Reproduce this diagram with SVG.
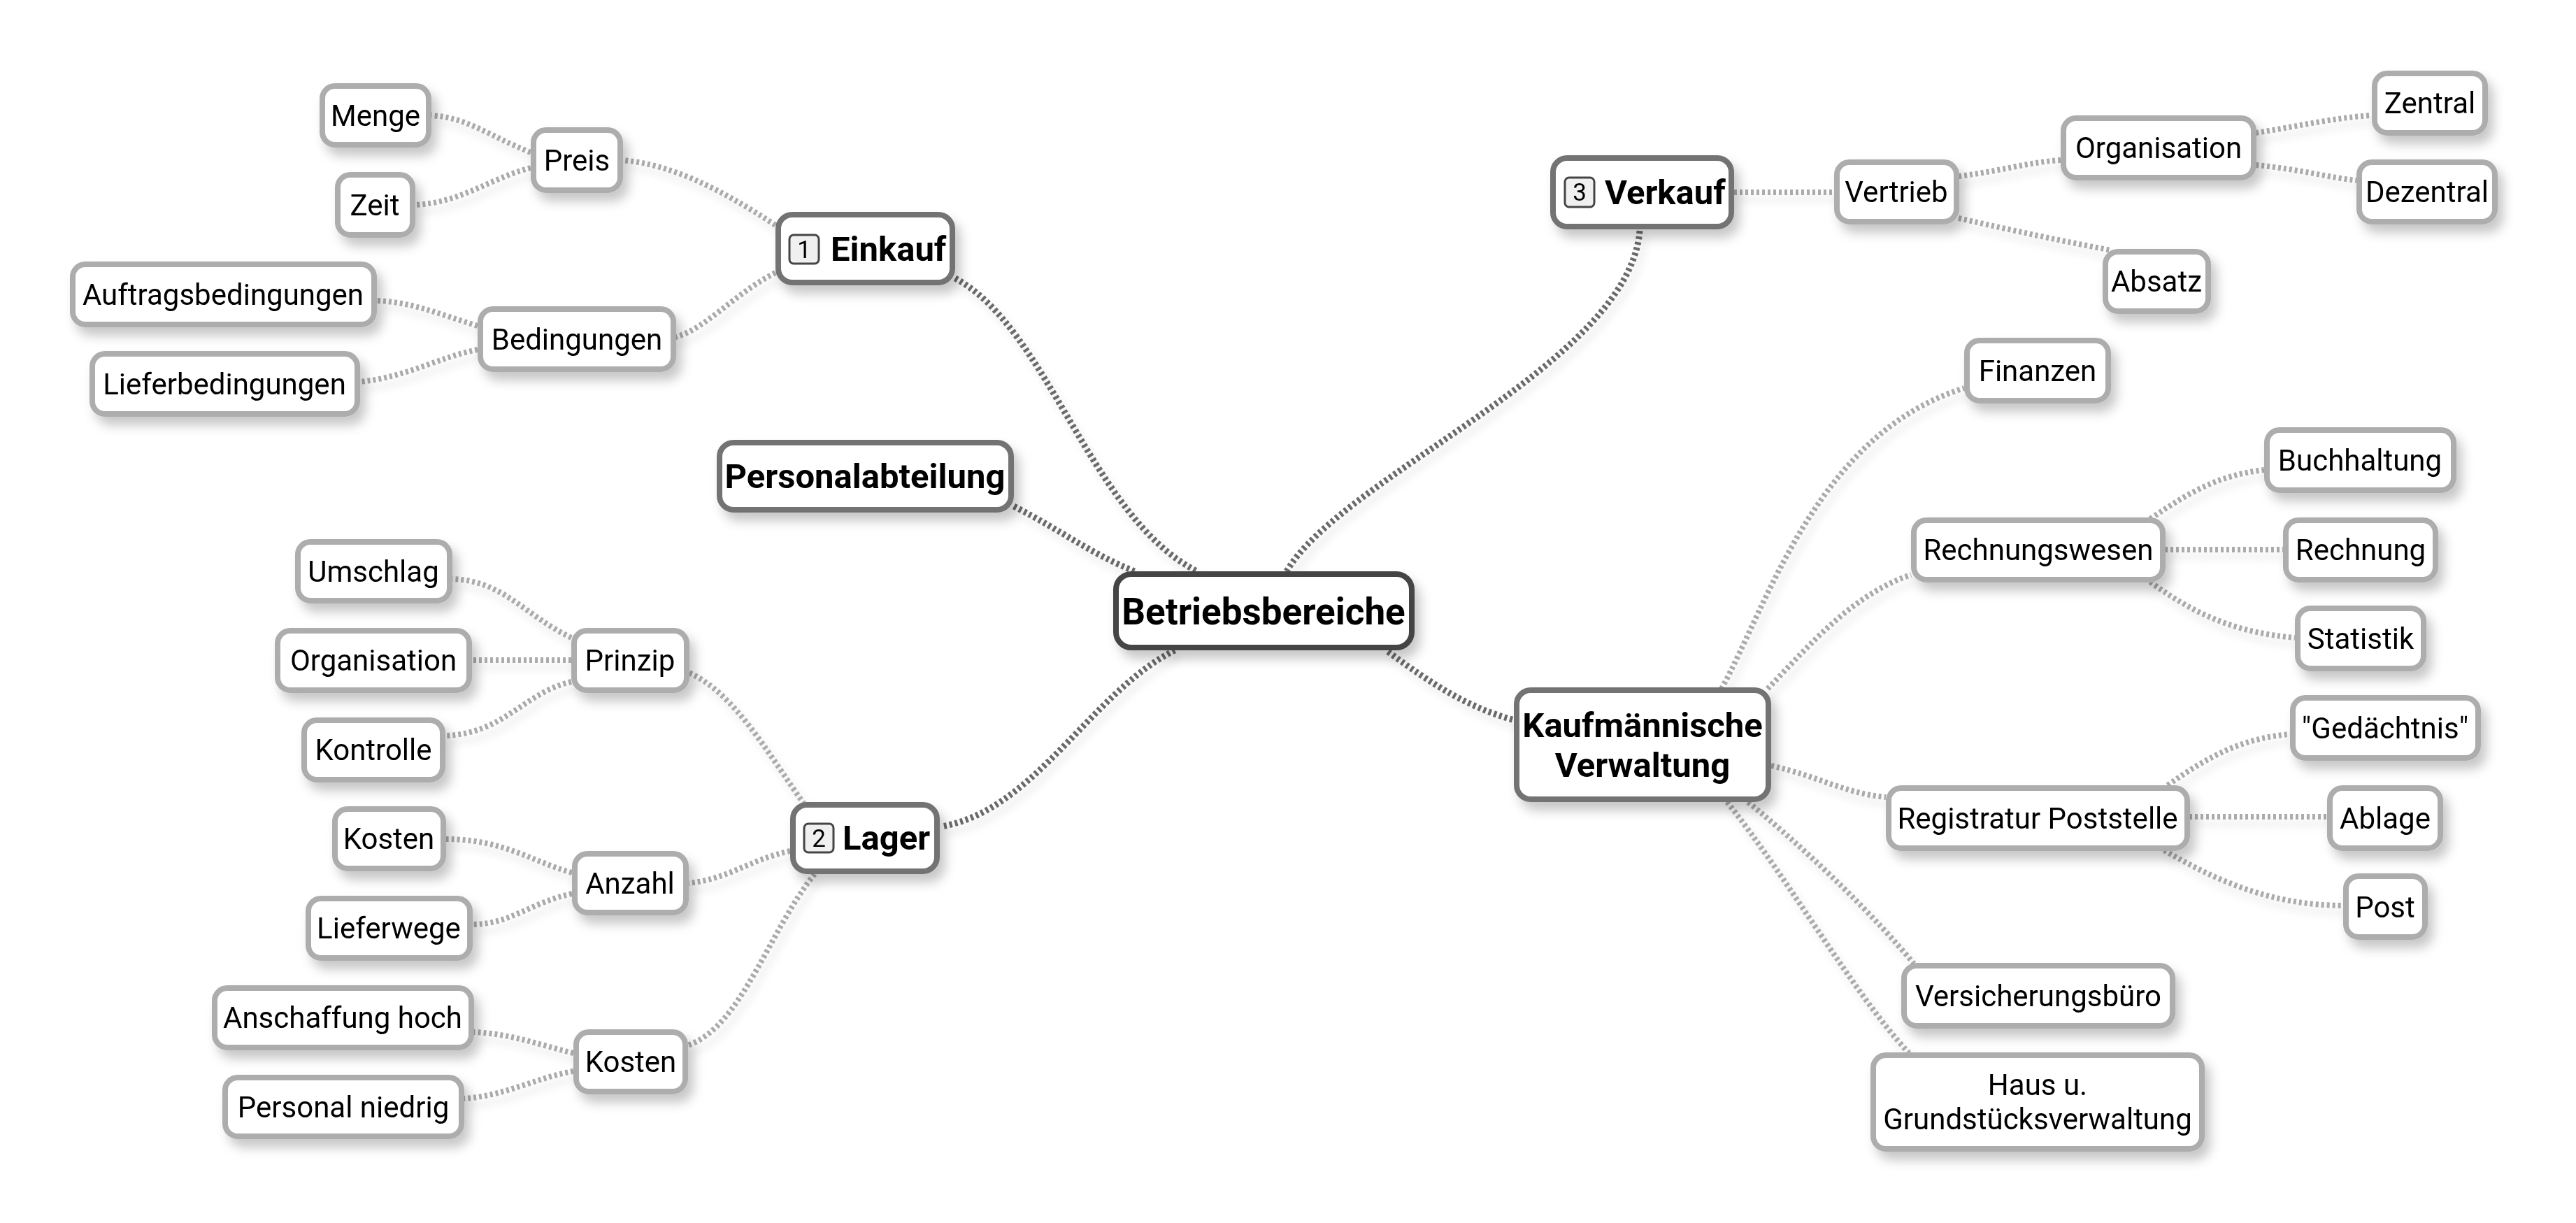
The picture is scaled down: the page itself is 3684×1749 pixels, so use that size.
<svg xmlns="http://www.w3.org/2000/svg" width="3684" height="1749" viewBox="0 0 3684 1749">
<defs>
<filter id="sh" x="-20%" y="-30%" width="150%" height="180%">
<feDropShadow dx="8" dy="12" stdDeviation="8" flood-color="#000" flood-opacity="0.22"/>
</filter>
<filter id="lsh" x="-10%" y="-10%" width="130%" height="130%">
<feDropShadow dx="6" dy="10" stdDeviation="6" flood-color="#000" flood-opacity="0.12"/>
</filter>
</defs>
<style>
.n rect.b{fill:#fff;stroke:#adadad;stroke-width:8}
.n text{font-family:Roboto,"Liberation Sans",sans-serif;font-size:42px;fill:#000;text-anchor:middle}
.m rect.b{fill:#fff;stroke:#737373;stroke-width:8}
.m text{font-family:Roboto,"Liberation Sans",sans-serif;font-size:49px;font-weight:bold;fill:#000}
.c rect.b{fill:#fff;stroke:#444;stroke-width:8}
.c text{font-family:Roboto,"Liberation Sans",sans-serif;font-size:53px;font-weight:bold;fill:#000;text-anchor:middle}
.ic{fill:#f0f0f0;stroke:#444;stroke-width:3}
.m text.d{font-size:35px;font-weight:normal;text-anchor:middle}
.k1{fill:none;stroke:#6a6a6a;stroke-width:9;stroke-dasharray:4 4}
.k2{fill:none;stroke:#ababab;stroke-width:8;stroke-dasharray:4 4}
</style>
<rect width="3684" height="1749" fill="#fff"/>
<g id="connectors" filter="url(#lsh)">
<path class="k1" d="M1366,398 C1500,470 1560,740 1712,817"/>
<path class="k1" d="M1450,724 C1520,760 1560,792 1625,818"/>
<path class="k1" d="M1680,930 C1560,990 1480,1160 1346,1182"/>
<path class="k1" d="M1840,817 C1920,680 2330,520 2345,330"/>
<path class="k1" d="M1985,932 C2050,980 2100,1012 2166,1030"/>
<path class="k2" d="M1109,322 C1030,270 960,235 890,229"/>
<path class="k2" d="M1109,390 C1050,420 1010,470 966,482"/>
<path class="k2" d="M759,218 C700,195 670,168 616,165"/>
<path class="k2" d="M759,240 C700,255 660,290 593,293"/>
<path class="k2" d="M683,466 C630,450 590,432 539,430"/>
<path class="k2" d="M683,500 C630,510 580,540 514,546"/>
<path class="k2" d="M1150,1150 C1100,1080 1050,990 985,962"/>
<path class="k2" d="M1130,1217 C1070,1230 1040,1258 984,1263"/>
<path class="k2" d="M1165,1250 C1100,1330 1060,1470 983,1495"/>
<path class="k2" d="M817,912 C750,880 720,830 646,828"/>
<path class="k2" d="M817,944 L674,944"/>
<path class="k2" d="M817,975 C750,990 720,1050 636,1052"/>
<path class="k2" d="M818,1248 C760,1232 720,1200 637,1200"/>
<path class="k2" d="M818,1278 C760,1290 730,1322 675,1322"/>
<path class="k2" d="M820,1506 C770,1494 730,1478 677,1476"/>
<path class="k2" d="M820,1532 C770,1540 720,1568 663,1571"/>
<path class="k2" d="M2480,275 L2623,275"/>
<path class="k2" d="M2801,252 C2860,245 2900,232 2947,229"/>
<path class="k2" d="M2801,312 C2880,330 2950,345 3020,358"/>
<path class="k2" d="M3226,190 C3290,180 3340,168 3392,165"/>
<path class="k2" d="M3226,236 C3290,242 3330,254 3370,258"/>
<path class="k2" d="M2462,985 C2530,860 2600,620 2809,555"/>
<path class="k2" d="M2528,985 C2590,920 2650,850 2733,822"/>
<path class="k2" d="M2533,1095 C2600,1110 2640,1135 2697,1140"/>
<path class="k2" d="M2500,1147 C2600,1230 2680,1310 2737,1378"/>
<path class="k2" d="M2470,1147 C2560,1260 2650,1420 2730,1506"/>
<path class="k2" d="M3075,742 C3130,705 3170,680 3238,672"/>
<path class="k2" d="M3096,786 L3265,786"/>
<path class="k2" d="M3075,832 C3140,880 3200,905 3282,912"/>
<path class="k2" d="M3100,1123 C3160,1080 3210,1055 3275,1050"/>
<path class="k2" d="M3131,1168 L3328,1168"/>
<path class="k2" d="M3095,1216 C3170,1260 3250,1295 3351,1295"/>
</g>
<g id="center" class="c" filter="url(#sh)"><rect class="b" x="1596" y="821" width="423" height="105" rx="22"/><text x="1807" y="893">Betriebsbereiche</text></g>
<g id="einkauf" class="m" filter="url(#sh)"><rect class="b" x="1113" y="307" width="249" height="97" rx="20"/><rect class="ic" x="1129" y="336" width="42" height="41" rx="6"/><text class="d" x="1150" y="369">1</text><text x="1188" y="373">Einkauf</text></g>
<g id="verkauf" class="m" filter="url(#sh)"><rect class="b" x="2221" y="226" width="255" height="98" rx="20"/><rect class="ic" x="2238" y="254" width="42" height="42" rx="6"/><text class="d" x="2259" y="287">3</text><text x="2295" y="292">Verkauf</text></g>
<g id="lager" class="m" filter="url(#sh)"><rect class="b" x="1134" y="1151" width="206" height="95" rx="20"/><rect class="ic" x="1150" y="1178" width="42" height="41" rx="6"/><text class="d" x="1171" y="1211">2</text><text x="1205" y="1215">Lager</text></g>
<g id="personal" class="m" filter="url(#sh)"><rect class="b" x="1029" y="633" width="417" height="96" rx="20"/><text x="1237" y="698" text-anchor="middle">Personalabteilung</text></g>
<g id="kaufm" class="m" filter="url(#sh)"><rect class="b" x="2169" y="987" width="360" height="156" rx="20"/><text x="2349" y="1054" text-anchor="middle">Kaufmännische</text><text x="2349" y="1111" text-anchor="middle">Verwaltung</text></g>
<g id="menge" class="n" filter="url(#sh)"><rect class="b" x="461" y="123" width="152" height="84" rx="18"/><text x="537" y="180">Menge</text></g>
<g id="preis" class="n" filter="url(#sh)"><rect class="b" x="763" y="186" width="124" height="86" rx="18"/><text x="825" y="244">Preis</text></g>
<g id="zeit" class="n" filter="url(#sh)"><rect class="b" x="483" y="250" width="107" height="86" rx="18"/><text x="536" y="308">Zeit</text></g>
<g id="auftrag" class="n" filter="url(#sh)"><rect class="b" x="104" y="378" width="431" height="86" rx="18"/><text x="319" y="436">Auftragsbedingungen</text></g>
<g id="bedingungen" class="n" filter="url(#sh)"><rect class="b" x="687" y="442" width="276" height="86" rx="18"/><text x="825" y="500">Bedingungen</text></g>
<g id="liefer" class="n" filter="url(#sh)"><rect class="b" x="132" y="506" width="379" height="86" rx="18"/><text x="321" y="564">Lieferbedingungen</text></g>
<g id="umschlag" class="n" filter="url(#sh)"><rect class="b" x="426" y="775" width="217" height="84" rx="18"/><text x="534" y="832">Umschlag</text></g>
<g id="organisation-l" class="n" filter="url(#sh)"><rect class="b" x="397" y="902" width="274" height="85" rx="18"/><text x="534" y="959">Organisation</text></g>
<g id="prinzip" class="n" filter="url(#sh)"><rect class="b" x="821" y="902" width="161" height="85" rx="18"/><text x="901" y="959">Prinzip</text></g>
<g id="kontrolle" class="n" filter="url(#sh)"><rect class="b" x="435" y="1030" width="198" height="85" rx="18"/><text x="534" y="1087">Kontrolle</text></g>
<g id="kosten-l" class="n" filter="url(#sh)"><rect class="b" x="479" y="1157" width="155" height="85" rx="18"/><text x="556" y="1214">Kosten</text></g>
<g id="anzahl" class="n" filter="url(#sh)"><rect class="b" x="822" y="1221" width="159" height="84" rx="18"/><text x="901" y="1278">Anzahl</text></g>
<g id="lieferwege" class="n" filter="url(#sh)"><rect class="b" x="441" y="1285" width="231" height="85" rx="18"/><text x="556" y="1342">Lieferwege</text></g>
<g id="anschaffung" class="n" filter="url(#sh)"><rect class="b" x="307" y="1413" width="367" height="85" rx="18"/><text x="490" y="1470">Anschaffung hoch</text></g>
<g id="kosten" class="n" filter="url(#sh)"><rect class="b" x="824" y="1476" width="156" height="85" rx="18"/><text x="902" y="1533">Kosten</text></g>
<g id="personalniedrig" class="n" filter="url(#sh)"><rect class="b" x="322" y="1541" width="338" height="84" rx="18"/><text x="491" y="1598">Personal niedrig</text></g>
<g id="vertrieb" class="n" filter="url(#sh)"><rect class="b" x="2627" y="232" width="171" height="85" rx="18"/><text x="2712" y="289">Vertrieb</text></g>
<g id="organisation-r" class="n" filter="url(#sh)"><rect class="b" x="2951" y="169" width="272" height="85" rx="18"/><text x="3087" y="226">Organisation</text></g>
<g id="zentral" class="n" filter="url(#sh)"><rect class="b" x="3396" y="105" width="158" height="85" rx="18"/><text x="3475" y="162">Zentral</text></g>
<g id="dezentral" class="n" filter="url(#sh)"><rect class="b" x="3374" y="232" width="194" height="85" rx="18"/><text x="3471" y="289">Dezentral</text></g>
<g id="absatz" class="n" filter="url(#sh)"><rect class="b" x="3011" y="360" width="147" height="85" rx="18"/><text x="3084" y="417">Absatz</text></g>
<g id="finanzen" class="n" filter="url(#sh)"><rect class="b" x="2813" y="487" width="202" height="86" rx="18"/><text x="2914" y="545">Finanzen</text></g>
<g id="buchhaltung" class="n" filter="url(#sh)"><rect class="b" x="3242" y="615" width="267" height="86" rx="18"/><text x="3375" y="673">Buchhaltung</text></g>
<g id="rechnungswesen" class="n" filter="url(#sh)"><rect class="b" x="2737" y="744" width="356" height="85" rx="18"/><text x="2915" y="801">Rechnungswesen</text></g>
<g id="rechnung" class="n" filter="url(#sh)"><rect class="b" x="3269" y="744" width="214" height="85" rx="18"/><text x="3376" y="801">Rechnung</text></g>
<g id="statistik" class="n" filter="url(#sh)"><rect class="b" x="3286" y="870" width="180" height="86" rx="18"/><text x="3376" y="928">Statistik</text></g>
<g id="gedaechtnis" class="n" filter="url(#sh)"><rect class="b" x="3279" y="998" width="265" height="86" rx="18"/><text x="3411" y="1056">"Gedächtnis"</text></g>
<g id="registratur" class="n" filter="url(#sh)"><rect class="b" x="2701" y="1127" width="427" height="86" rx="18"/><text x="2914" y="1185">Registratur Poststelle</text></g>
<g id="ablage" class="n" filter="url(#sh)"><rect class="b" x="3332" y="1127" width="158" height="86" rx="18"/><text x="3411" y="1185">Ablage</text></g>
<g id="post" class="n" filter="url(#sh)"><rect class="b" x="3355" y="1253" width="113" height="87" rx="18"/><text x="3411" y="1312">Post</text></g>
<g id="versicherung" class="n" filter="url(#sh)"><rect class="b" x="2723" y="1381" width="384" height="86" rx="18"/><text x="2915" y="1439">Versicherungsbüro</text></g>
<g id="haus" class="n" filter="url(#sh)"><rect class="b" x="2679" y="1509" width="470" height="134" rx="18"/><text x="2914" y="1566">Haus u.</text><text x="2914" y="1615">Grundstücksverwaltung</text></g>
</svg>
